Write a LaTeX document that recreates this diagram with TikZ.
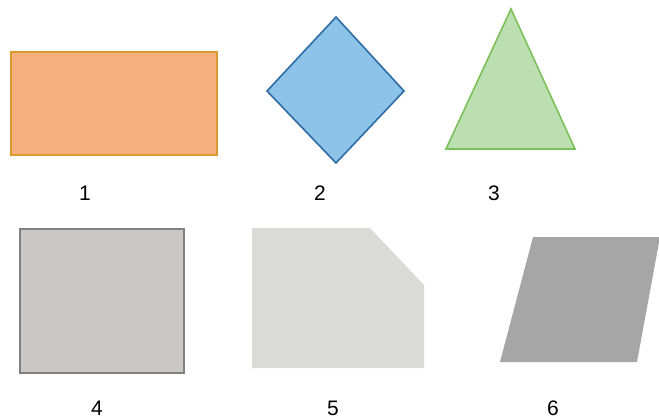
\documentclass[tikz,border=0pt]{standalone}
\usepackage{fontspec}
\setmainfont{Liberation Sans}
\definecolor{orfill}{HTML}{F7AF80}
\definecolor{ordraw}{HTML}{D99A2E}
\definecolor{blfill}{HTML}{8DC3E8}
\definecolor{bldraw}{HTML}{2E6CA6}
\definecolor{grfill}{HTML}{BCDFB2}
\definecolor{grdraw}{HTML}{7CC05A}
\definecolor{g4fill}{HTML}{C9C8C7}
\definecolor{g4draw}{HTML}{808080}
\definecolor{g5fill}{HTML}{DADAD9}
\definecolor{g6fill}{HTML}{A6A6A6}
\begin{document}
\begin{tikzpicture}[x=1pt,y=-1pt,
  lbl/.style={font=\fontsize{21}{21}\selectfont, inner sep=0pt, anchor=center},
  shp/.style={line width=1.6pt, line join=miter}]
\useasboundingbox (0,0) rectangle (659,418);
\path[clip] (0,0) rectangle (659,418);
% 1 rectangle
\draw[shp, fill=orfill, draw=ordraw] (11,52) rectangle (217,155);
% 2 diamond
\draw[shp, fill=blfill, draw=bldraw] (336,17) -- (404,91) -- (336,163) -- (267,91) -- cycle;
% 3 triangle
\draw[shp, fill=grfill, draw=grdraw] (511,9) -- (575,149) -- (446,149) -- cycle;
% 4 square
\draw[shp, fill=g4fill, draw=g4draw] (20,229) rectangle (184,373);
% 5 cut corner
\fill[g5fill] (252,228) -- (370,228) -- (424,285) -- (424,368) -- (252,368) -- cycle;
% 6 parallelogram
\fill[g6fill] (533,237) -- (660,237) -- (637,362) -- (500,362) -- cycle;
% labels
\node[lbl] (l1) at (85,193) {1};
\node[lbl] (l2) at (320,193) {2};
\node[lbl] (l3) at (494,193) {3};
\node[lbl] (l4) at (97,408) {4};
\node[lbl] (l5) at (333,408) {5};
\node[lbl] (l6) at (553,408) {6};
\end{tikzpicture}
\end{document}
